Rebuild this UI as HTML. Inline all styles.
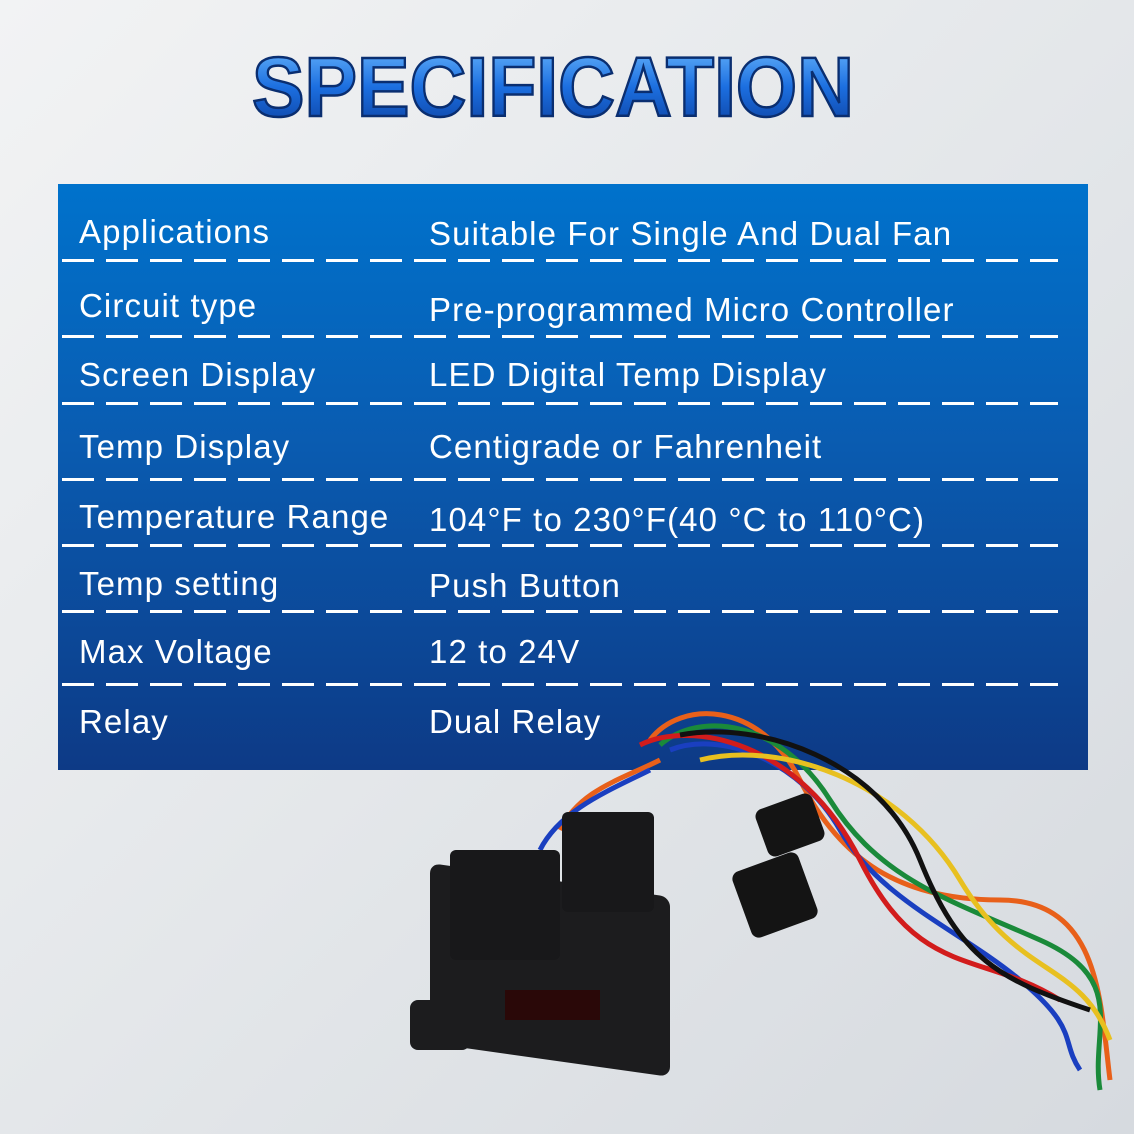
<!DOCTYPE html>
<html><head><style>
body{margin:0;width:1134px;height:1134px;overflow:hidden;background:linear-gradient(135deg,#f2f3f4 0%,#e4e7ea 50%,#d6dadf 100%);font-family:"Liberation Sans",sans-serif;position:relative}
.tbl{position:absolute;left:58px;top:184px;width:1030px;height:586px;background:linear-gradient(180deg,#0072cc 0%,#0a5bb0 45%,#0d3a86 100%)}
.t{position:absolute;color:#fff;font-size:33px;letter-spacing:1.1px;white-space:nowrap}
.d{position:absolute;left:62px;width:996px;height:3px;background:repeating-linear-gradient(90deg,#fff 0 32px,transparent 32px 44px)}
</style></head><body>
<svg style="position:absolute;left:0;top:0" width="1134" height="1134">
<defs><linearGradient id="g" x1="0" y1="0" x2="0" y2="1"><stop offset="0" stop-color="#6fbcff"/><stop offset="0.5" stop-color="#1c6fe0"/><stop offset="1" stop-color="#0b3d9c"/></linearGradient></defs>
<text x="252" y="116" font-family="Liberation Sans" font-weight="bold" font-size="84" textLength="602" lengthAdjust="spacingAndGlyphs" fill="url(#g)" stroke="#0a2e70" stroke-width="2.5">SPECIFICATION</text>
</svg>
<div class="tbl"></div>
<div class="t" style="left:79px;top:213px">Applications</div><div class="t" style="left:429px;top:215px">Suitable For Single And Dual Fan</div>
<div class="d" style="top:259px"></div>
<div class="t" style="left:79px;top:287px">Circuit type</div><div class="t" style="left:429px;top:291px">Pre-programmed Micro Controller</div>
<div class="d" style="top:335px"></div>
<div class="t" style="left:79px;top:356px">Screen Display</div><div class="t" style="left:429px;top:356px">LED Digital Temp Display</div>
<div class="d" style="top:402px"></div>
<div class="t" style="left:79px;top:428px">Temp Display</div><div class="t" style="left:429px;top:428px">Centigrade or Fahrenheit</div>
<div class="d" style="top:478px"></div>
<div class="t" style="left:79px;top:498px">Temperature Range</div><div class="t" style="left:429px;top:501px">104°F to 230°F(40 °C to 110°C)</div>
<div class="d" style="top:544px"></div>
<div class="t" style="left:79px;top:565px">Temp setting</div><div class="t" style="left:429px;top:567px">Push Button</div>
<div class="d" style="top:610px"></div>
<div class="t" style="left:79px;top:633px">Max Voltage</div><div class="t" style="left:429px;top:633px">12 to 24V</div>
<div class="d" style="top:683px"></div>
<div class="t" style="left:79px;top:703px">Relay</div><div class="t" style="left:429px;top:703px">Dual Relay</div>
<svg style="position:absolute;left:0;top:0" width="1134" height="1134" fill="none" stroke-width="5">
<path d="M650 740 C680 700 760 700 800 780 S900 900 1000 900 S1100 1000 1110 1080" stroke="#e8601a"/>
<path d="M660 745 C700 710 780 720 830 800 S950 900 1040 940 S1090 1030 1100 1090" stroke="#1a8a3a"/>
<path d="M670 750 C720 730 800 760 840 830 S960 930 1020 980 S1060 1040 1080 1070" stroke="#1a3fc0"/>
<path d="M640 745 C690 720 800 740 860 860 S980 950 1060 1000" stroke="#d21c1c"/>
<path d="M700 760 C780 740 900 780 960 880 S1080 960 1110 1040" stroke="#e8c020"/>
<path d="M680 735 C760 720 880 760 920 860 S1000 980 1090 1010" stroke="#111"/>
<path d="M560 830 C580 790 620 780 660 760" stroke="#e8601a"/>
<path d="M540 850 C560 810 610 790 650 770" stroke="#1a3fc0"/>
</svg>
<div style="position:absolute;left:430px;top:880px;width:240px;height:180px;background:#1c1c1e;border-radius:10px;transform:skewY(8deg)"></div>
<div style="position:absolute;left:410px;top:1000px;width:60px;height:50px;background:#1c1c1e;border-radius:8px"></div>
<div style="position:absolute;left:450px;top:850px;width:110px;height:110px;background:#18181a;border-radius:6px"></div>
<div style="position:absolute;left:562px;top:812px;width:92px;height:100px;background:#18181a;border-radius:6px"></div>
<div style="position:absolute;left:505px;top:990px;width:95px;height:30px;background:#2a0808"></div>
<div style="position:absolute;left:740px;top:860px;width:70px;height:70px;background:#141414;border-radius:8px;transform:rotate(-20deg)"></div>
<div style="position:absolute;left:760px;top:800px;width:60px;height:50px;background:#141414;border-radius:8px;transform:rotate(-20deg)"></div>
</body></html>
